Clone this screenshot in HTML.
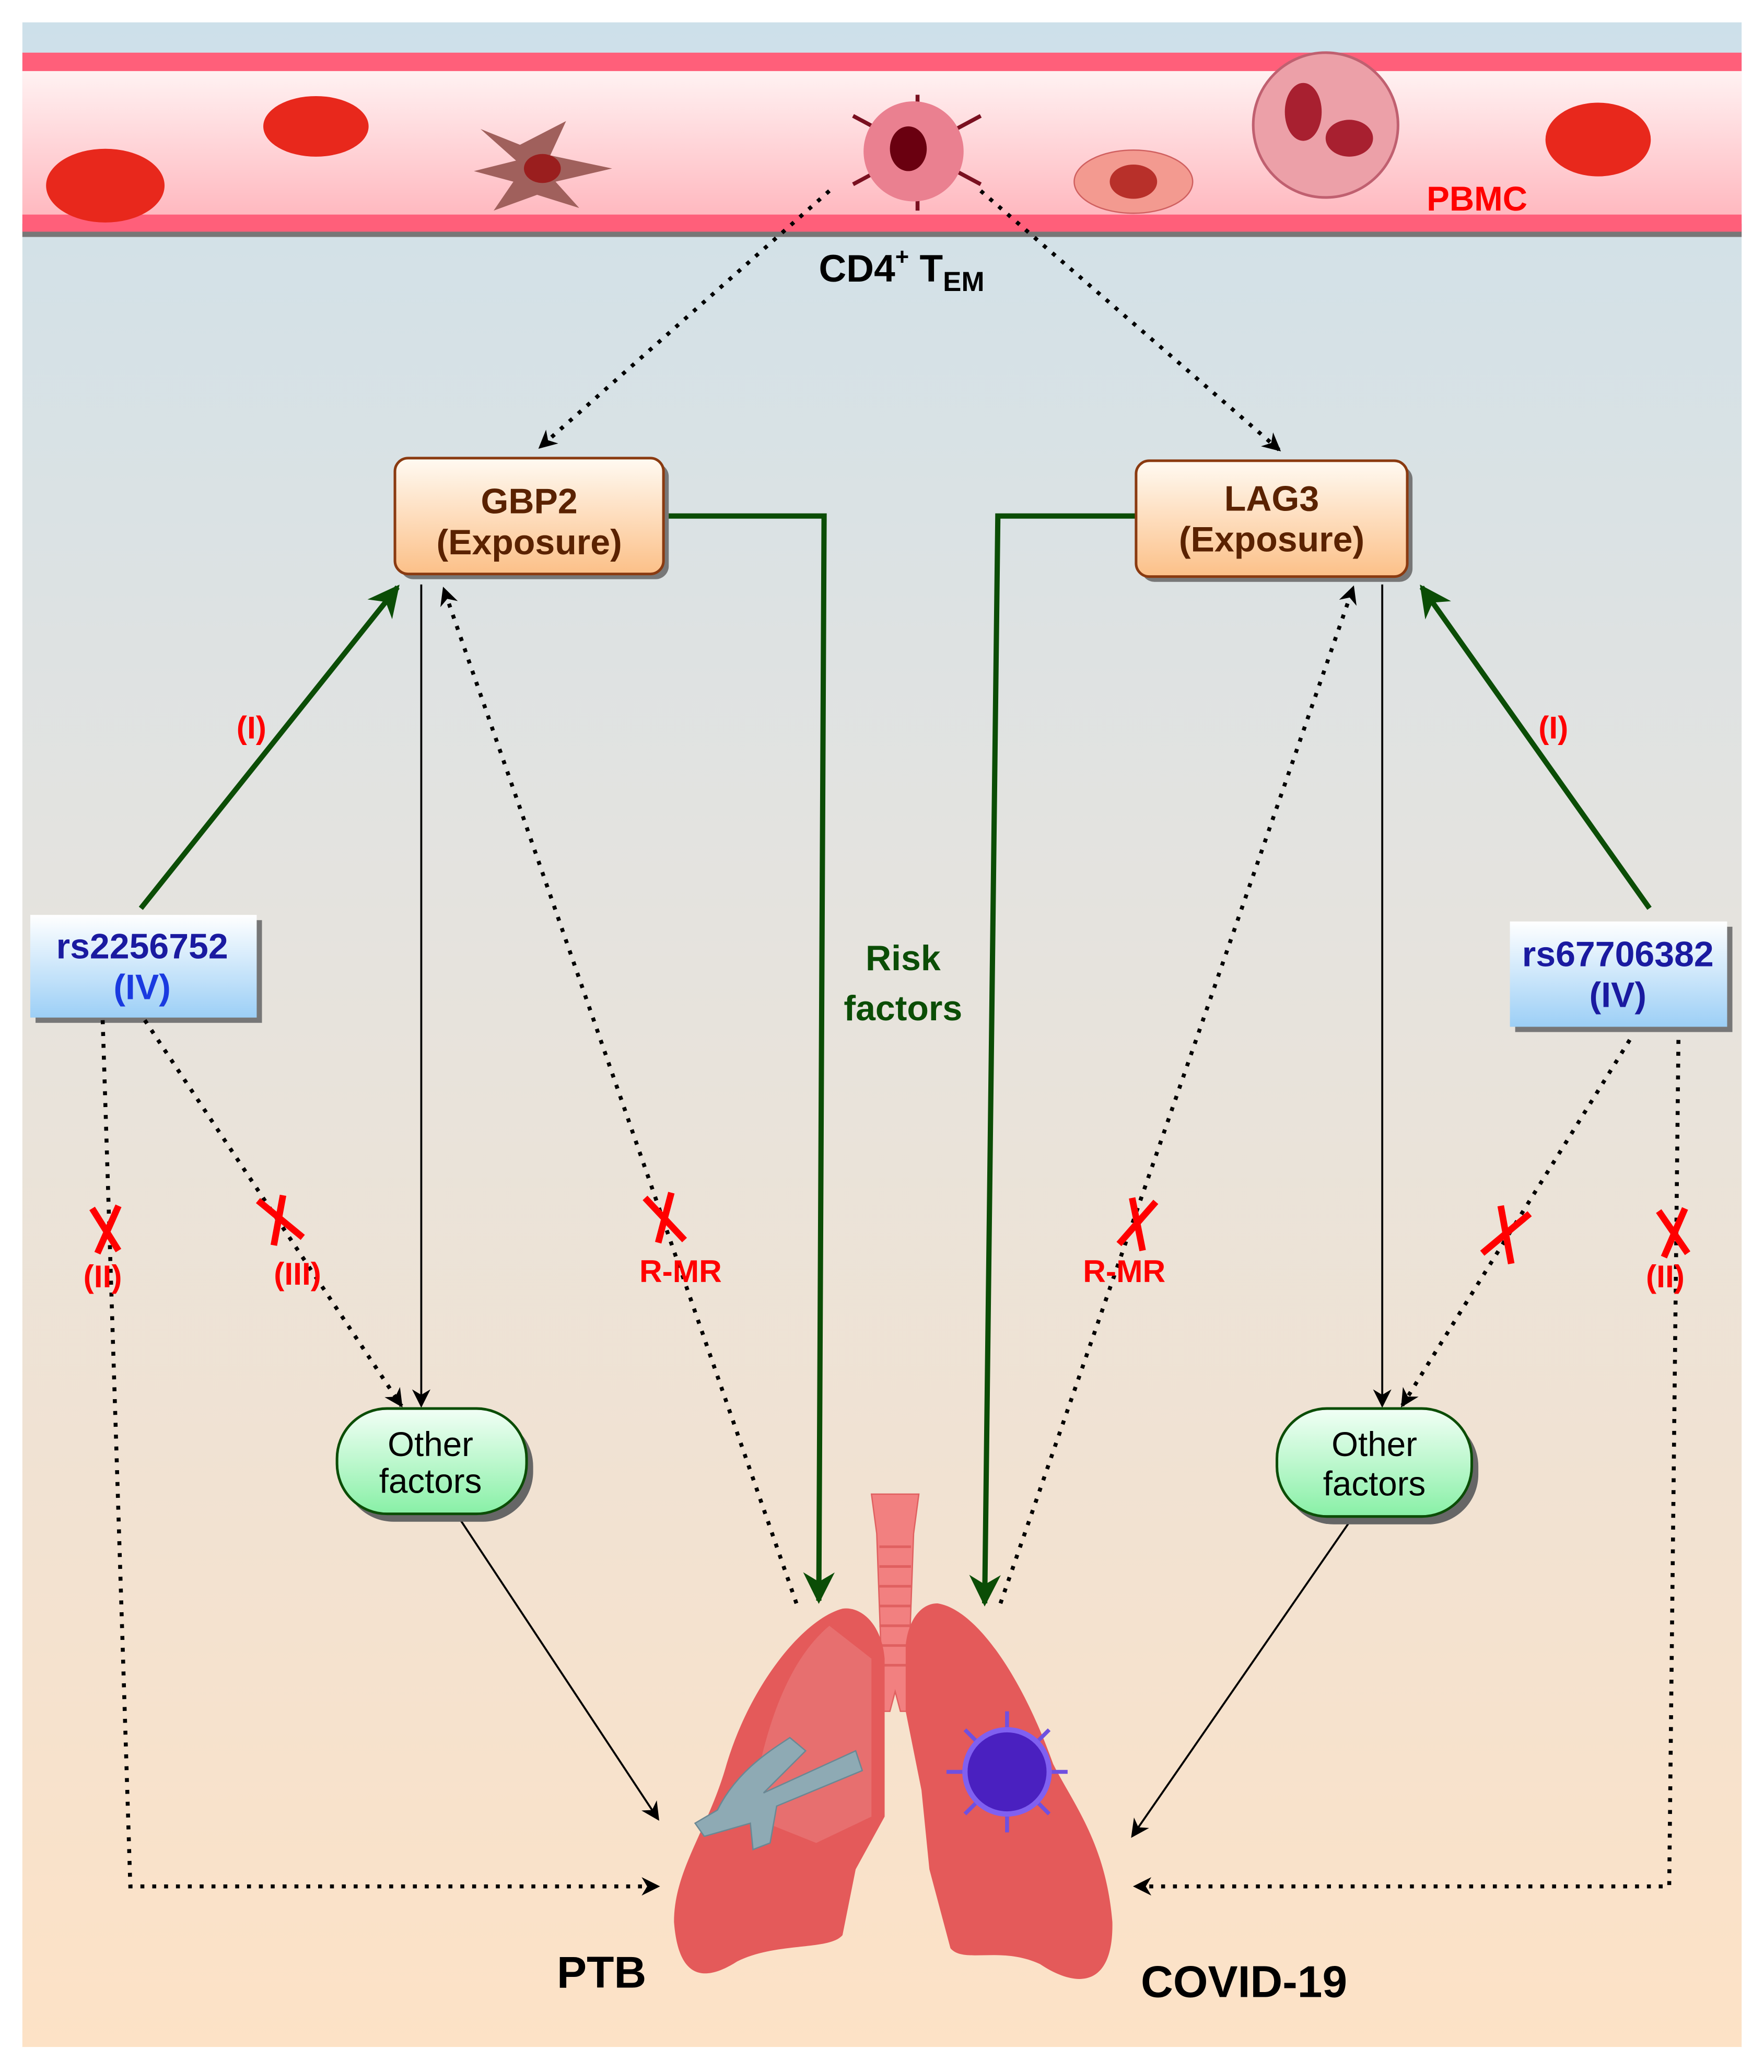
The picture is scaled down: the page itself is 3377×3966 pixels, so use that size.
<!DOCTYPE html>
<html><head><meta charset="utf-8"><style>html,body{margin:0;padding:0;background:#fff}svg{display:block}text{font-family:"Liberation Sans",Arial,sans-serif;font-weight:bold}</style></head>
<body>
<svg width="3377" height="3966" viewBox="0 0 1340 1574" preserveAspectRatio="none" xmlns="http://www.w3.org/2000/svg">
<defs>
<linearGradient id="bg" x1="0" y1="0" x2="0" y2="1"><stop offset="0" stop-color="#cde0ea"/><stop offset="0.4" stop-color="#e3e3e0"/><stop offset="1" stop-color="#fde2c6"/></linearGradient>
<linearGradient id="ves" x1="0" y1="0" x2="0" y2="1"><stop offset="0" stop-color="#fff4f4"/><stop offset="1" stop-color="#ffb0b8"/></linearGradient>
<linearGradient id="org" x1="0" y1="0" x2="0" y2="1"><stop offset="0" stop-color="#fffaf2"/><stop offset="1" stop-color="#fcc088"/></linearGradient>
<linearGradient id="blu" x1="0" y1="0" x2="0" y2="1"><stop offset="0" stop-color="#ffffff"/><stop offset="1" stop-color="#9ccff6"/></linearGradient>
<linearGradient id="grn" x1="0" y1="0" x2="0" y2="1"><stop offset="0" stop-color="#f2fff6"/><stop offset="1" stop-color="#88f0a6"/></linearGradient>
<marker id="ab" viewBox="0 0 10 10" refX="9" refY="5" markerWidth="14" markerHeight="14" markerUnits="userSpaceOnUse" orient="auto"><path d="M0,0 L10,5 L0,10 L3,5z" fill="#000"/></marker>
<marker id="ag" viewBox="0 0 10 10" refX="9" refY="5" markerWidth="24" markerHeight="24" markerUnits="userSpaceOnUse" orient="auto"><path d="M0,0 L10,5 L0,10 L3,5z" fill="#0b4d06"/></marker>
</defs>
<rect x="17" y="17" width="1306" height="1538" fill="url(#bg)"/>
<rect x="17" y="50" width="1306" height="130" fill="url(#ves)"/>
<rect x="17" y="40" width="1306" height="14" fill="#ff5f7a"/>
<rect x="17" y="170" width="1306" height="10" fill="#777"/>
<rect x="17" y="163" width="1306" height="13" fill="#ff5f7a"/>
<ellipse cx="80" cy="141" rx="45" ry="28" fill="#e8281c"/>
<ellipse cx="240" cy="96" rx="40" ry="23" fill="#e8281c"/>
<ellipse cx="1214" cy="106" rx="40" ry="28" fill="#e8281c"/>
<path d="M365,98 L395,110 L430,92 L418,118 L465,128 L422,138 L440,158 L408,148 L375,160 L390,138 L360,130 L392,122z" fill="#a0605c"/>
<ellipse cx="412" cy="128" rx="14" ry="11" fill="#9a1e1e"/>
<g stroke="#7a1020" stroke-width="3"><line x1="697" y1="72" x2="697" y2="160"/><line x1="648" y1="88" x2="745" y2="140"/><line x1="745" y1="88" x2="648" y2="140"/></g>
<circle cx="694" cy="115" r="38" fill="#ea8090"/>
<ellipse cx="690" cy="113" rx="14" ry="17" fill="#6a0010"/>
<ellipse cx="861" cy="138" rx="45" ry="24" fill="#f39a90" stroke="#d06060"/>
<ellipse cx="861" cy="138" rx="18" ry="13" fill="#b8302a"/>
<circle cx="1007" cy="95" r="55" fill="#eca0a8" stroke="#c06070" stroke-width="2"/>
<ellipse cx="990" cy="85" rx="14" ry="22" fill="#a82030"/><ellipse cx="1025" cy="105" rx="18" ry="14" fill="#a82030"/>
<text x="1122" y="160" font-size="26" fill="#f00" text-anchor="middle">PBMC</text>
<text x="622" y="214" font-size="29" fill="#000">CD4<tspan font-size="18" dy="-13">+</tspan><tspan dy="13"> T</tspan><tspan font-size="21" dy="7">EM</tspan></text>
<g fill="none" stroke="#000" stroke-width="3" stroke-dasharray="3,6">
<line x1="630" y1="145" x2="410" y2="340" marker-end="url(#ab)"/>
<line x1="745" y1="145" x2="972" y2="342" marker-end="url(#ab)"/>
</g>
<g fill="none" stroke="#0b4d06" stroke-width="4">
<polyline points="505,392 626,392 622,1216" marker-end="url(#ag)"/>
<polyline points="863,392 758,392 748,1218" marker-end="url(#ag)"/>
<line x1="107" y1="690" x2="302" y2="446" marker-end="url(#ag)"/>
<line x1="1253" y1="690" x2="1080" y2="446" marker-end="url(#ag)"/>
</g>
<text x="686" y="737" font-size="27" fill="#0b4d06" text-anchor="middle">Risk</text>
<text x="686" y="775" font-size="27" fill="#0b4d06" text-anchor="middle">factors</text>
<rect x="304" y="352" width="204" height="88" rx="10" fill="#777"/>
<rect x="300" y="348" width="204" height="88" rx="10" fill="url(#org)" stroke="#8a3a10" stroke-width="2"/>
<text x="402" y="390" font-size="27" fill="#5a2200" text-anchor="middle">GBP2</text>
<text x="402" y="421" font-size="27" fill="#5a2200" text-anchor="middle">(Exposure)</text>
<rect x="867" y="354" width="206" height="88" rx="10" fill="#777"/>
<rect x="863" y="350" width="206" height="88" rx="10" fill="url(#org)" stroke="#8a3a10" stroke-width="2"/>
<text x="966" y="388" font-size="27" fill="#5a2200" text-anchor="middle">LAG3</text>
<text x="966" y="419" font-size="27" fill="#5a2200" text-anchor="middle">(Exposure)</text>
<rect x="27" y="699" width="172" height="78" fill="#777"/>
<rect x="23" y="695" width="172" height="78" fill="url(#blu)"/>
<text x="108" y="728" font-size="27" fill="#1a1aa0" text-anchor="middle">rs2256752</text>
<text x="108" y="759" font-size="27" fill="#1a3ae0" text-anchor="middle">(IV)</text>
<rect x="1151" y="704" width="165" height="80" fill="#777"/>
<rect x="1147" y="700" width="165" height="80" fill="url(#blu)"/>
<text x="1229" y="734" font-size="27" fill="#1a1aa0" text-anchor="middle">rs67706382</text>
<text x="1229" y="765" font-size="27" fill="#1a1aa0" text-anchor="middle">(IV)</text>
<g fill="none" stroke="#000" stroke-width="1.5">
<line x1="320" y1="444" x2="320" y2="1068" marker-end="url(#ab)"/>
<line x1="1050" y1="444" x2="1050" y2="1068" marker-end="url(#ab)"/>
<line x1="348" y1="1152" x2="500" y2="1382" marker-end="url(#ab)"/>
<line x1="1028" y1="1152" x2="860" y2="1395" marker-end="url(#ab)"/>
</g>
<g fill="none" stroke="#000" stroke-width="3" stroke-dasharray="3,6">
<line x1="110" y1="775" x2="305" y2="1068" marker-end="url(#ab)"/>
<polyline points="78,775 99,1433 500,1433" marker-end="url(#ab)"/>
<line x1="605" y1="1218" x2="337" y2="447" marker-end="url(#ab)"/>
<line x1="760" y1="1218" x2="1028" y2="446" marker-end="url(#ab)"/>
<line x1="1238" y1="790" x2="1065" y2="1068" marker-end="url(#ab)"/>
<polyline points="1275,790 1268,1433 862,1433" marker-end="url(#ab)"/>
</g>
<g stroke="#f00" stroke-width="5" fill="none">
<path d="M70,918 L90,950 M90,916 L74,952"/>
<path d="M196,912 L230,940 M215,908 L208,946"/>
<path d="M490,910 L520,942 M510,906 L500,944"/>
<path d="M850,945 L878,913 M860,910 L868,950"/>
<path d="M1126,952 L1162,922 M1140,916 L1148,960"/>
<path d="M1260,920 L1282,952 M1280,918 L1264,955"/>
</g>
<g fill="#f00" font-size="24" text-anchor="middle">
<text x="78" y="978">(II)</text><text x="226" y="976">(III)</text>
<text x="517" y="974">R-MR</text><text x="854" y="974">R-MR</text>
<text x="1265" y="978">(II)</text>
<text x="191" y="561">(I)</text><text x="1180" y="561">(I)</text>
</g>
<rect x="261" y="1076" width="144" height="80" rx="38" fill="#666"/>
<rect x="256" y="1070" width="144" height="80" rx="38" fill="url(#grn)" stroke="#0b4d06" stroke-width="2"/>
<text x="327" y="1106" font-size="26" text-anchor="middle" fill="#000" style="font-weight:normal">Other</text>
<text x="327" y="1134" font-size="26" text-anchor="middle" fill="#000" style="font-weight:normal">factors</text>
<rect x="975" y="1076" width="148" height="82" rx="38" fill="#666"/>
<rect x="970" y="1070" width="148" height="82" rx="38" fill="url(#grn)" stroke="#0b4d06" stroke-width="2"/>
<text x="1044" y="1106" font-size="26" text-anchor="middle" fill="#000" style="font-weight:normal">Other</text>
<text x="1044" y="1136" font-size="26" text-anchor="middle" fill="#000" style="font-weight:normal">factors</text>
<path d="M662,1135 L698,1135 L694,1165 L690,1275 L700,1300 L684,1300 L680,1285 L676,1300 L660,1300 L670,1275 L666,1165z" fill="#f28080" stroke="#e06060"/>
<g stroke="#e06060" stroke-width="2"><line x1="668" y1="1175" x2="692" y2="1175"/><line x1="668" y1="1190" x2="692" y2="1190"/><line x1="668" y1="1205" x2="692" y2="1205"/><line x1="668" y1="1220" x2="692" y2="1220"/><line x1="668" y1="1235" x2="692" y2="1235"/><line x1="668" y1="1250" x2="692" y2="1250"/><line x1="668" y1="1265" x2="692" y2="1265"/></g>
<path d="M640,1222 C610,1230 570,1280 552,1340 C538,1390 512,1420 512,1460 C515,1500 532,1508 560,1490 C590,1475 630,1482 640,1470 L650,1420 L672,1380 L672,1260 C670,1235 655,1220 640,1222z" fill="#e45a5a"/>
<path d="M712,1218 C740,1222 775,1270 800,1340 C815,1370 840,1400 845,1460 C846,1508 820,1512 790,1492 C760,1478 732,1492 722,1480 L706,1420 L700,1360 L688,1300 L688,1250 C690,1230 700,1218 712,1218z" fill="#e45a5a"/>
<path d="M630,1235 C600,1260 580,1310 570,1380 L620,1400 L662,1380 L662,1260z" fill="#e87878" opacity="0.7"/>
<path d="M545,1375 C560,1345 585,1330 600,1320 L612,1330 L580,1362 L650,1330 L655,1345 L590,1372 L585,1400 L572,1405 L570,1385 L535,1395 L528,1385z" fill="#8eaab4" stroke="#6a8894"/>
<g stroke="#7050e0" stroke-width="3"><line x1="765" y1="1300" x2="765" y2="1392"/><line x1="719" y1="1346" x2="811" y2="1346"/><line x1="733" y1="1314" x2="797" y2="1378"/><line x1="797" y1="1314" x2="733" y2="1378"/></g>
<circle cx="765" cy="1346" r="32" fill="#4a20c0" stroke="#8060f0" stroke-width="4"/>
<text x="457" y="1510" font-size="34" text-anchor="middle" fill="#000">PTB</text>
<text x="945" y="1517" font-size="34" text-anchor="middle" fill="#000">COVID-19</text>
</svg>
</body></html>
